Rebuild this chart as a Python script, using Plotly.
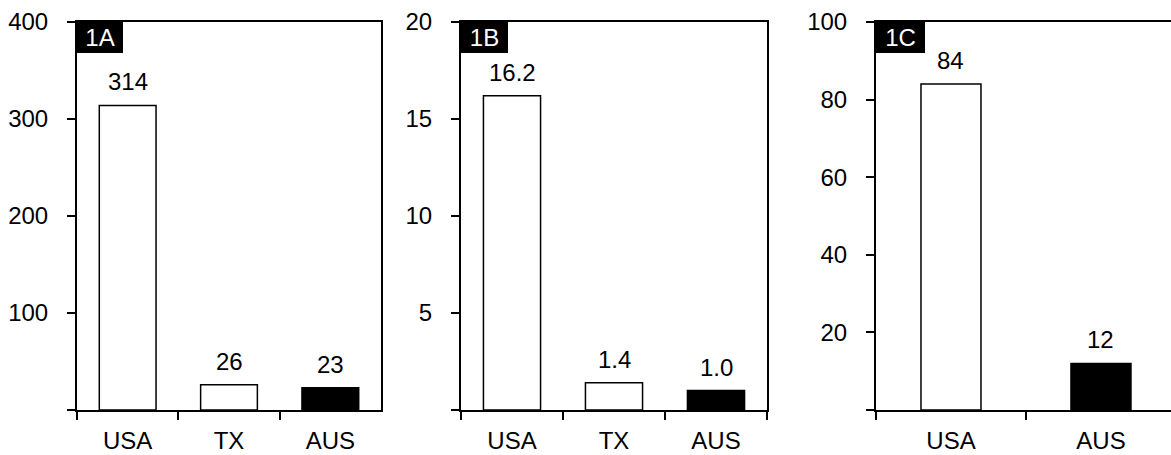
import plotly.graph_objects as go

# ---- data ----
cats_a = ["USA", "TX", "AUS"]
vals_a = [314, 26, 23]
cats_b = ["USA", "TX", "AUS"]
vals_b = [16.2, 1.4, 1.0]
cats_c = ["USA", "AUS"]
vals_c = [84, 12]
fills_a = ["white", "white", "black"]
fills_b = ["white", "white", "black"]
fills_c = ["white", "black"]
panel_labels = ["1A", "1B", "1C"]
yticks_a = [0, 100, 200, 300, 400]
yticks_b = [0, 5, 10, 15, 20]
yticks_c = [0, 20, 40, 60, 80, 100]

W, H = 1171, 455
FONT = "Liberation Sans, Arial, sans-serif"
FS = 24

def px_x(a, b):
    return [a / W, b / W]

ydom = [(H - 410) / H, (H - 22) / H]

panels = [
    dict(cats=cats_a, vals=vals_a, fills=fills_a, fmt="{:.0f}", yt=yticks_a,
         dom=px_x(77, 381), bw=0.56, xr=[-0.5, 2.5], mirror=True, lab=panel_labels[0], lw=46),
    dict(cats=cats_b, vals=vals_b, fills=fills_b, fmt="{:.1f}", yt=yticks_b,
         dom=px_x(461, 767), bw=0.56, xr=[-0.5, 2.5], mirror=True, lab=panel_labels[1], lw=47),
    dict(cats=cats_c, vals=vals_c, fills=fills_c, fmt="{:.0f}", yt=yticks_c,
         dom=px_x(876, 1171), bw=0.40, xr=[-0.5, 1.467], mirror=False, lab=panel_labels[2], lw=49),
]

fig = go.Figure()
annotations = []
for i, p in enumerate(panels):
    n = "" if i == 0 else str(i + 1)
    xa, ya = "x" + n, "y" + n
    fig.add_trace(go.Bar(
        x=p["cats"], y=p["vals"], xaxis=xa, yaxis=ya,
        width=p["bw"],
        marker=dict(color=p["fills"], line=dict(color="black", width=1.5)),
        showlegend=False, hoverinfo="skip",
    ))
    for c, v in zip(p["cats"], p["vals"]):
        annotations.append(dict(
            x=c, y=v, xref=xa, yref=ya, text=p["fmt"].format(v),
            showarrow=False, yanchor="bottom", xanchor="center", yshift=8,
            font=dict(family=FONT, size=FS, color="black"),
        ))
    annotations.append(dict(
        x=0, y=1, xref=xa + " domain", yref=ya + " domain", text=p["lab"],
        showarrow=False, xanchor="left", yanchor="top",
        bgcolor="black", width=p["lw"], height=31, borderpad=0, borderwidth=0,
        font=dict(family=FONT, size=FS, color="white"), align="center", valign="middle",
    ))
    xkey = "xaxis" + n
    ykey = "yaxis" + n
    fig.layout[xkey] = dict(
        domain=p["dom"], anchor=ya, type="category", range=p["xr"],
        categoryorder="array", categoryarray=p["cats"], automargin=False,
        showline=True, linecolor="black", linewidth=2, mirror=True,
        ticks="outside", tickson="boundaries", ticklen=8, tickwidth=1.5, tickcolor="black",
        showgrid=False, zeroline=False, ticklabelstandoff=8,
        tickfont=dict(family=FONT, size=FS, color="black"), fixedrange=True,
    )
    fig.layout[ykey] = dict(
        domain=ydom, anchor=xa, range=[p["yt"][0], p["yt"][-1]], automargin=False,
        tickvals=p["yt"], ticktext=[""] + [str(t) for t in p["yt"][1:]],
        showline=True, linecolor="black", linewidth=2, mirror=p["mirror"],
        ticks="outside", ticklen=8, tickwidth=1.5, tickcolor="black",
        showgrid=False, zeroline=False, ticklabelstandoff=14,
        tickfont=dict(family=FONT, size=FS, color="black"), fixedrange=True,
    )

fig.update_layout(
    template="none",
    width=W, height=H, margin=dict(l=0, r=0, t=0, b=0, autoexpand=False),
    paper_bgcolor="white", plot_bgcolor="white",
    annotations=annotations, bargap=0.4,
    font=dict(family=FONT, size=FS, color="black"),
)
fig.write_html("out.html", config={"displayModeBar": False},
               post_script="document.body.style.margin='0';document.body.style.overflow='hidden';")
